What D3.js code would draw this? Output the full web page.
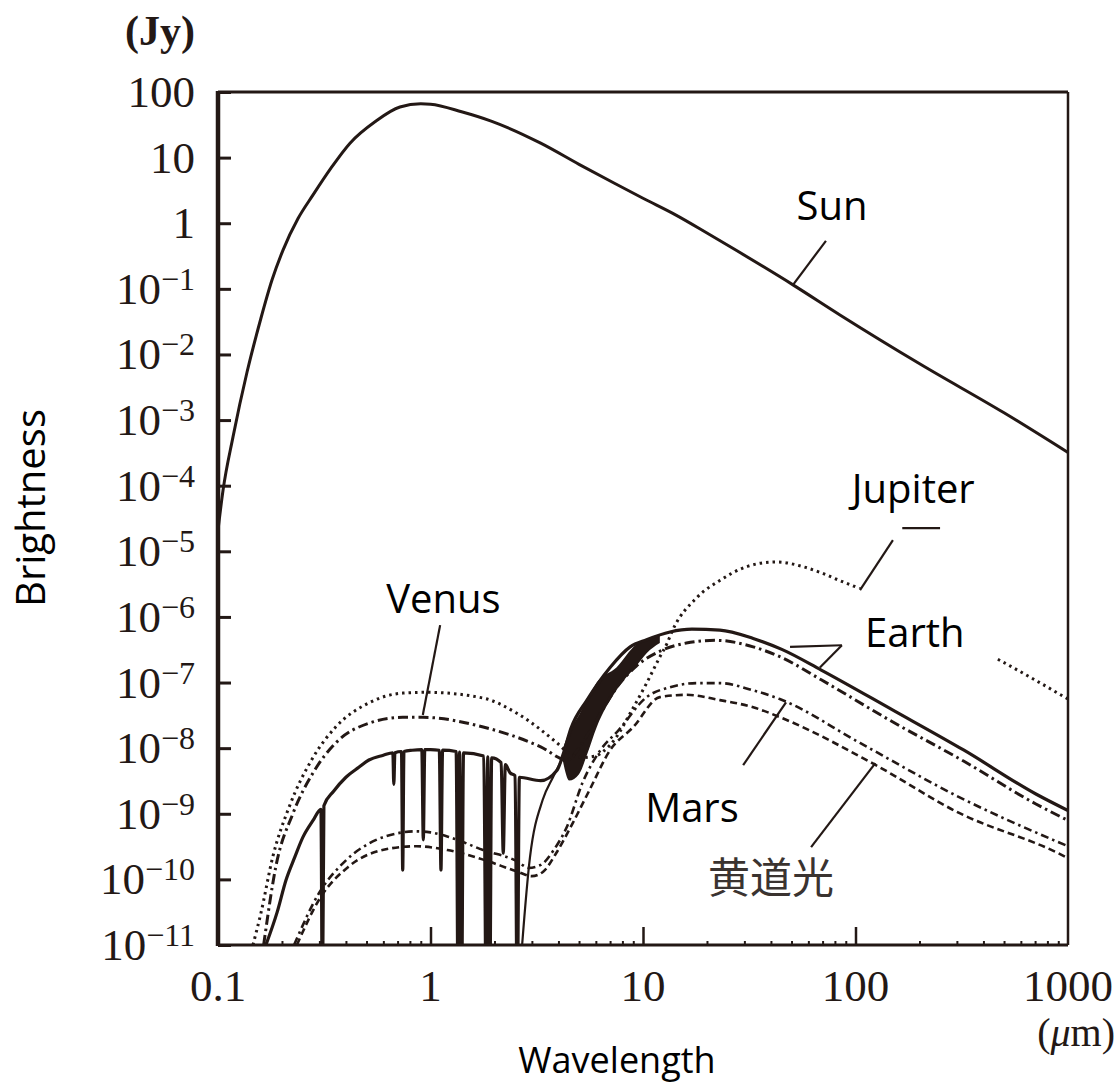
<!DOCTYPE html>
<html>
<head>
<meta charset="utf-8">
<script src="https://cdn.jsdelivr.net/npm/d3@7"></script>
<style>
  body { margin: 0; background: #fff; }
  svg { display: block; }
</style>
</head>
<body>
<div id="chart"></div>
<script>
(function () {
"use strict";

// wavelength (um) / brightness (Jy)
var sunWl = [0.1, 0.1056, 0.1176, 0.137, 0.159, 0.1795, 0.2023, 0.238, 0.28, 0.34, 0.418, 0.55, 0.718, 0.9, 1.0, 1.4, 1.93, 3.3, 5, 7.3, 10, 14.3, 20, 27.7, 50.8, 84.5, 205, 500, 1000];
var sunJy = [2.1e-5, 8.5e-5, 5.5e-4, 5.4e-3, 3.5e-2, 0.136, 0.39, 1.18, 2.7, 6.9, 16.6, 35.5, 59, 66, 65, 50, 36, 16.6, 7.9, 4.1, 2.4, 1.33, 0.71, 0.38, 0.115, 0.04, 6.9e-3, 1.29e-3, 3.2e-4];

var jupiterWl = [0.146, 0.159, 0.181, 0.216, 0.28, 0.358, 0.513, 0.74, 0.96, 1.77, 2.55, 3.94, 4.5, 5.2, 6.0, 6.5, 7.5, 8.7, 10.4, 12, 13, 13.7, 18, 23, 30.6, 42, 57, 69, 84, 102, 200, 463, 1000];
var jupiterJy = [1e-11, 3.0e-11, 2.2e-10, 1.26e-9, 7.2e-9, 2.1e-8, 4.9e-8, 6.9e-8, 7.1e-8, 5.8e-8, 3.4e-8, 1.2e-8, 8.3e-9, 7.2e-9, 7.6e-9, 8.9e-9, 1.48e-8, 3.4e-8, 9.8e-8, 2.45e-7, 4.0e-7, 6.0e-7, 2.0e-6, 3.6e-6, 5.8e-6, 6.9e-6, 5.8e-6, 4.7e-6, 3.6e-6, 2.8e-6, 8.9e-7, 2.3e-7, 5.6e-8];

var venusWl = [0.164, 0.187, 0.225, 0.28, 0.358, 0.513, 0.74, 0.92, 1.77, 3.3, 4.4, 5.0, 5.6, 6.5, 7.5, 9.3, 12, 16, 22, 33, 45, 69, 150, 324, 706, 1000];
var venusJy = [1e-11, 1.55e-10, 1.0e-9, 4.2e-9, 1.2e-8, 2.4e-8, 2.95e-8, 2.95e-8, 2.1e-8, 1.05e-8, 6.6e-9, 1.0e-8, 1.78e-8, 4.0e-8, 8.3e-8, 1.78e-7, 3.0e-7, 4.0e-7, 4.4e-7, 3.5e-7, 2.4e-7, 1.1e-7, 2.5e-8, 6.3e-9, 1.41e-9, 7.9e-10];

// earth: reflected light with absorption bands, then thermal emission
var earthWl = [0.168, 0.19, 0.209, 0.23, 0.251, 0.28, 0.305, 0.31, 0.315, 0.35, 0.40, 0.46, 0.513, 0.60, 0.665, 0.672, 0.68, 0.73, 0.74, 0.75, 0.82, 0.91, 0.925, 0.94, 1.0, 1.10, 1.12, 1.14, 1.32, 1.35, 1.37, 1.40, 1.43, 1.78, 1.83, 1.86, 1.90, 1.94, 2.15, 2.2, 2.25, 2.37, 2.5, 2.56, 2.62, 3.3, 3.94, 4.2, 4.58, 5.45, 7.0, 8.7, 10.4, 13.4, 17, 23, 33, 45, 69, 150, 324, 706, 1000];
var earthJy = [1e-11, 3.2e-11, 9.8e-11, 2.2e-10, 4.4e-10, 7.9e-10, 1.17e-9, 1e-12, 1.32e-9, 2.2e-9, 3.6e-9, 5.1e-9, 6.6e-9, 7.8e-9, 8.5e-9, 2.8e-9, 8.5e-9, 8.9e-9, 1.38e-10, 8.9e-9, 9.3e-9, 9.5e-9, 4.0e-10, 9.5e-9, 9.5e-9, 9.3e-9, 1.38e-10, 9.3e-9, 8.9e-9, 1e-12, 8.7e-9, 1e-12, 8.5e-9, 7.6e-9, 1e-12, 7.4e-9, 1e-12, 7.1e-9, 6.0e-9, 2.5e-10, 5.6e-9, 4.2e-9, 3.8e-9, 1e-12, 3.6e-9, 3.2e-9, 4.6e-9, 7.9e-9, 2.0e-8, 5.4e-8, 1.7e-7, 3.5e-7, 4.5e-7, 5.9e-7, 6.5e-7, 6.3e-7, 4.7e-7, 3.2e-7, 1.55e-7, 3.8e-8, 9.3e-9, 2.0e-9, 1.12e-9];
// edge of the 2.7um band, and the dark absorption band region 4-12um
var earthEdgeWl = [2.56, 2.94, 3.37, 3.77, 4.2];
var earthEdgeJy = [1e-12, 2.2e-10, 1.62e-9, 3.6e-9, 7.1e-9];
var earthBandWl = [4.2, 4.5, 5.0, 5.45, 6.06, 7.5, 9.3, 10.4, 12];
var earthBandTop = [1.0e-8, 1.78e-8, 3.2e-8, 5.4e-8, 1.0e-7, 1.7e-7, 3.8e-7, 4.5e-7, 5.4e-7];
var earthBandLow = [6.3e-9, 3.2e-9, 4.0e-9, 7.9e-9, 2.1e-8, 7.6e-8, 1.78e-7, 2.8e-7, 4.0e-7];

var marsWl = [0.228, 0.299, 0.4, 0.555, 0.69, 0.85, 1.0, 1.23, 1.77, 2.55, 2.9, 3.3, 3.8, 4.38, 5.2, 6.3, 7.7, 10.4, 13.4, 18, 23, 33, 44, 105, 309, 850, 1000];
var marsJy = [1e-11, 6.2e-11, 1.95e-10, 4.0e-10, 5.0e-10, 5.4e-10, 5.2e-10, 4.4e-10, 2.8e-10, 1.9e-10, 1.5e-10, 1.66e-10, 2.8e-10, 6.3e-10, 3.0e-9, 9.3e-9, 1.9e-8, 6.0e-8, 8.5e-8, 9.8e-8, 9.8e-8, 7.6e-8, 5.6e-8, 1.2e-8, 1.78e-9, 4.0e-10, 3.2e-10];

var zodiWl = [0.235, 0.3, 0.41, 0.64, 0.86, 1.2, 1.77, 2.55, 3.0, 3.4, 3.9, 4.67, 5.6, 7.0, 9.0, 12, 16, 23, 33, 46, 120, 309, 900, 1000];
var zodiJy = [1e-11, 5.0e-11, 1.55e-10, 2.95e-10, 3.2e-10, 2.8e-10, 2.0e-10, 1.32e-10, 1.12e-10, 1.32e-10, 2.5e-10, 7.2e-10, 2.3e-9, 9.3e-9, 2.1e-8, 6.0e-8, 6.5e-8, 5.4e-8, 4.2e-8, 2.8e-8, 5.9e-9, 1.02e-9, 2.5e-10, 2.1e-10];

var xTicks = [0.1, 1, 10, 100, 1000];
var xTickLabels = ["0.1", "1", "10", "100", "1000"];
var yExponents = [2, 1, 0, -1, -2, -3, -4, -5, -6, -7, -8, -9, -10, -11];

var ink = "#231815";
var width = 1120,
	height = 1085;

var x = d3.scaleLog().domain([0.1, 1000]).range([218, 1068]);
var y = d3.scaleLog().domain([1e-11, 100]).range([945, 92]);

var svg = d3.select("#chart").append("svg")
	.attr("width", width)
	.attr("height", height)
	.style("font-family", "'Liberation Serif', serif");

svg.append("clipPath").attr("id", "plotClip")
	.append("rect")
	.attr("x", x(0.1)).attr("y", y(100))
	.attr("width", x(1000) - x(0.1))
	.attr("height", y(1e-11) - y(100));

function zip(wl, jy) {
	return wl.map(function (w, i) { return { w: w, f: jy[i] }; });
}

var line = d3.line()
	.x(function (d) { return x(d.w); })
	.y(function (d) { return y(d.f); })
	.curve(d3.curveMonotoneX);

var plot = svg.append("g").attr("clip-path", "url(#plotClip)");

// dark band of the earth thermal spectrum
var bandData = earthBandWl.map(function (w, i) {
	return { w: w, top: earthBandTop[i], low: earthBandLow[i] };
});
plot.append("path")
	.datum(bandData)
	.attr("fill", ink)
	.attr("d", d3.area()
		.x(function (d) { return x(d.w); })
		.y0(function (d) { return y(d.low); })
		.y1(function (d) { return y(d.top); })
		.curve(d3.curveMonotoneX));

var series = [
	{ data: zip(sunWl, sunJy), dash: null, w: 3 },
	{ data: zip(zodiWl, zodiJy), dash: "7,4", w: 2.6 },
	{ data: zip(marsWl, marsJy), dash: "8,4,2.5,4", w: 2.6 },
	{ data: zip(venusWl, venusJy), dash: "10,4,2.5,4", w: 3 },
	{ data: zip(earthWl, earthJy), dash: null, w: 3.2 },
	{ data: zip(earthEdgeWl, earthEdgeJy), dash: null, w: 2.2 },
	{ data: zip(jupiterWl, jupiterJy), dash: "2.5,4", w: 3 }
];

plot.selectAll("path.curve").data(series)
	.enter().append("path")
	.attr("class", "curve")
	.attr("fill", "none")
	.attr("stroke", ink)
	.attr("stroke-width", function (d) { return d.w; })
	.attr("stroke-dasharray", function (d) { return d.dash; })
	.attr("d", function (d) { return line(d.data); });

// white patch that sat under the pasted Earth label
var patches = [
	{ w0: 87.2, w1: 463, f0: 2.7e-6, f1: 1.5e-7 }
];
svg.selectAll("rect.patch").data(patches)
	.enter().append("rect")
	.attr("class", "patch")
	.attr("fill", "#fff")
	.attr("x", function (d) { return x(d.w0); })
	.attr("y", function (d) { return y(d.f0); })
	.attr("width", function (d) { return x(d.w1) - x(d.w0); })
	.attr("height", function (d) { return y(d.f1) - y(d.f0); });

// frame
var frame = svg.append("g").attr("stroke", ink).attr("fill", "none");
frame.append("line").attr("x1", x(0.1)).attr("x2", x(0.1)).attr("y1", y(100) - 1).attr("y2", y(1e-11) + 1).attr("stroke-width", 4.5);
frame.append("line").attr("x1", x(0.1)).attr("x2", x(1000)).attr("y1", y(100)).attr("y2", y(100)).attr("stroke-width", 3);
frame.append("line").attr("x1", x(0.1)).attr("x2", x(1000)).attr("y1", y(1e-11)).attr("y2", y(1e-11)).attr("stroke-width", 3);
frame.append("line").attr("x1", x(1000)).attr("x2", x(1000)).attr("y1", y(100)).attr("y2", y(1e-11)).attr("stroke-width", 2.5);

// ticks
var yTickVals = yExponents.map(function (e) { return Math.pow(10, e); });
var yAxis = svg.append("g")
	.attr("transform", "translate(" + x(0.1) + ",0)")
	.call(d3.axisLeft(y).tickValues(yTickVals).tickSize(-13).tickFormat(""));
yAxis.select(".domain").remove();
yAxis.selectAll("line").attr("stroke", ink).attr("stroke-width", 3);

var minorX = [];
xTicks.slice(0, 4).forEach(function (t) {
	for (var k = 2; k < 10; k++) minorX.push(t * k);
});
var xMinor = svg.append("g")
	.attr("transform", "translate(0," + y(1e-11) + ")")
	.call(d3.axisBottom(x).tickValues(minorX).tickSize(-4).tickFormat(""));
xMinor.select(".domain").remove();
xMinor.selectAll("line").attr("stroke", ink).attr("stroke-width", 2);

var xAxis = svg.append("g")
	.attr("transform", "translate(0," + y(1e-11) + ")")
	.call(d3.axisBottom(x).tickValues(xTicks.slice(1, 4)).tickSize(-18).tickFormat(""));
xAxis.select(".domain").remove();
xAxis.selectAll("line").attr("stroke", ink).attr("stroke-width", 2.5);

// tick labels
var yLab = svg.append("g").attr("fill", ink).attr("font-size", 45).attr("text-anchor", "end");
yExponents.forEach(function (e) {
	var t = yLab.append("text")
		.attr("x", 195)
		.attr("y", y(Math.pow(10, e)) + 15);
	if (e >= 0) {
		t.text(d3.format("d")(Math.pow(10, e)));
	} else {
		t.append("tspan").text("10");
		t.append("tspan").attr("font-size", 32).attr("dy", -14).text("\u2212" + (-e));
	}
});

svg.append("text")
	.attr("x", 195).attr("y", 45)
	.attr("text-anchor", "end")
	.attr("font-size", 42)
	.attr("font-weight", "bold")
	.attr("fill", ink)
	.text("(Jy)");

svg.append("g").attr("fill", ink).attr("font-size", 45).attr("text-anchor", "middle")
	.selectAll("text").data(xTicks)
	.enter().append("text")
	.attr("x", function (d) { return x(d); })
	.attr("y", 1001)
	.text(function (d, i) { return xTickLabels[i]; });

var um = svg.append("text")
	.attr("x", 1115).attr("y", 1046)
	.attr("text-anchor", "end")
	.attr("font-size", 40)
	.attr("fill", ink);
um.append("tspan").text("(");
um.append("tspan").attr("font-style", "italic").text("\u03bc");
um.append("tspan").text("m)");

// axis titles
svg.append("text")
	.attr("transform", "translate(45,508) rotate(-90)")
	.attr("text-anchor", "middle")
	.attr("font-family", "'Open Sans', sans-serif")
	.attr("font-size", 40)
	.attr("fill", "#000")
	.text("Brightness");

svg.append("text")
	.attr("x", 617).attr("y", 1073)
	.attr("text-anchor", "middle")
	.attr("font-family", "'Open Sans', sans-serif")
	.attr("font-size", 36)
	.attr("fill", "#000")
	.text("Wavelength");

// curve labels and leader lines, placed in data units
var labels = [
	{ text: "Sun", w: 77.5, f: 1.12 },
	{ text: "Jupiter", w: 187, f: 5.4e-5 },
	{ text: "Earth", w: 190, f: 3.5e-7 },
	{ text: "Venus", w: 1.15, f: 1.14e-6 },
	{ text: "Mars", w: 17.0, f: 7.4e-10 }
];
var leaders = [
	[[72.6, 0.54], [50.8, 0.115]],
	[[150, 1.48e-5], [105, 2.57e-6]],
	[[166, 2.26e-5], [250, 2.26e-5]],
	[[86.3, 3.7e-7], [49.2, 3.5e-7]],
	[[86.3, 3.7e-7], [68, 1.7e-7]],
	[[1.11, 7.5e-7], [0.92, 3.2e-8]],
	[[29.6, 5.5e-9], [47.1, 5.0e-8]],
	[[61.8, 3.1e-10], [124, 5.9e-9]]
];

svg.append("g").selectAll("path").data(leaders)
	.enter().append("path")
	.attr("fill", "none")
	.attr("stroke", ink)
	.attr("stroke-width", 2.2)
	.attr("d", d3.line()
		.x(function (d) { return x(d[0]); })
		.y(function (d) { return y(d[1]); }));

svg.append("g")
	.attr("font-family", "'Open Sans', sans-serif")
	.attr("font-size", 40)
	.attr("text-anchor", "middle")
	.attr("fill", "#000")
	.selectAll("text").data(labels)
	.enter().append("text")
	.attr("x", function (d) { return x(d.w); })
	.attr("y", function (d) { return y(d.f); })
	.text(function (d) { return d.text; });

svg.append("text")
	.attr("x", x(40)).attr("y", y(6.2e-11))
	.attr("text-anchor", "middle")
	.attr("font-family", "'Noto Sans CJK JP', sans-serif")
	.attr("font-size", 42)
	.attr("fill", "#3a3330")
	.text("黄道光");

})();
</script>
</body>
</html>
